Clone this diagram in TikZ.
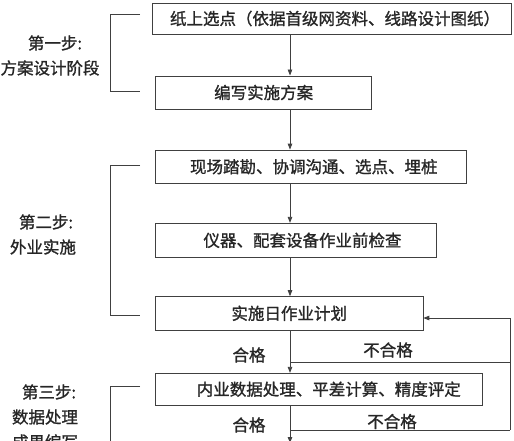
\documentclass[tikz,border=0pt]{standalone}
\usepackage{fontspec}
\newfontfamily\cjk[FakeBold=1.2]{Noto Sans CJK SC}
\usetikzlibrary{arrows.meta}
\begin{document}
\begin{tikzpicture}[x=1pt,y=-1pt,
  every node/.style={font=\cjk\fontsize{16.5}{18}\selectfont, text=black!85},
  box/.style={draw=black!75, line width=0.9pt, inner sep=0pt, anchor=center},
  conn/.style={draw=black!75, line width=0.8pt},
  arr/.style={conn, -{Triangle[length=6pt,width=4.5pt]}},
  lbl/.style={inner sep=0pt}]
\useasboundingbox (0,0) rectangle (514,440);
\clip (0,0) rectangle (514,440);
% boxes
\node[box, minimum width=359pt, minimum height=31pt] (b1) at (332,18.5) {\hspace{6pt}纸上选点（依据首级网资料、线路设计图纸）};
\node[box, minimum width=216pt, minimum height=33pt] (b2) at (263.7,92.5) {编写实施方案};
\node[box, minimum width=311.7pt, minimum height=33.3pt] (b3) at (310.8,166.7) {\hspace{6pt}现场踏勘、协调沟通、选点、埋桩};
\node[box, minimum width=281pt, minimum height=34pt] (b4) at (295.5,240.3) {\hspace{14pt}仪器、配套设备作业前检查};
\node[box, minimum width=268.3pt, minimum height=33.3pt] (b5) at (289.2,313.3) {实施日作业计划};
\node[box, minimum width=327.7pt, minimum height=31.7pt] (b6) at (318.8,389.2) {\hspace{20pt}内业数据处理、平差计算、精度评定};
% vertical arrows
\draw[arr] (b1.south -| 290,0) -- (b2.north -| 290,0);
\draw[arr] (b2.south -| 290,0) -- (b3.north -| 290,0);
\draw[arr] (b3.south -| 290,0) -- (b4.north -| 290,0);
\draw[arr] (b4.south -| 290,0) -- (b5.north -| 290,0);
\draw[arr] (b5.south -| 290,0) -- (b6.north -| 290,0);
\coordinate (bend) at (290,443);
\draw[arr] (b6.south -| 290,0) -- (bend);
% feedback
\coordinate (f1) at (290,362);
\coordinate (f2) at (290,430);
\coordinate (r1) at (510,362);
\coordinate (r2) at (510,430);
\coordinate (r0) at (510,318);
\coordinate (b5in) at (423.3,318);
\draw[conn] (f1) -- (r1);
\draw[conn] (f2) -- (r2);
\draw[arr] (r2) -- (r0) -- (b5in);
% labels
\node[lbl] (h1) at (249,355) {合格};
\node[lbl] (h2) at (249,425) {合格};
\node[lbl] (n1) at (388,350) {不合格};
\node[lbl] (n2) at (392,421.5) {不合格};
% brackets
\draw[conn] (140,14) -- (110,14) -- (110,91.7) -- (140,91.7);
\draw[conn] (140,165.7) -- (110,165.7) -- (110,315) -- (140,315);
\draw[conn] (140,386.7) -- (110,386.7) -- (110,445);
% left texts
\node[lbl] (s1a) at (55,43) {第一步:};
\node[lbl] (s1b) at (50,68) {方案设计阶段};
\node[lbl] (s2a) at (46,222) {第二步:};
\node[lbl] (s2b) at (43,247) {外业实施};
\node[lbl] (s3a) at (49,392) {第三步:};
\node[lbl] (s3b) at (45,417) {数据处理};
\node[lbl] (s3c) at (45,442) {成果编写};
\end{tikzpicture}
\end{document}
